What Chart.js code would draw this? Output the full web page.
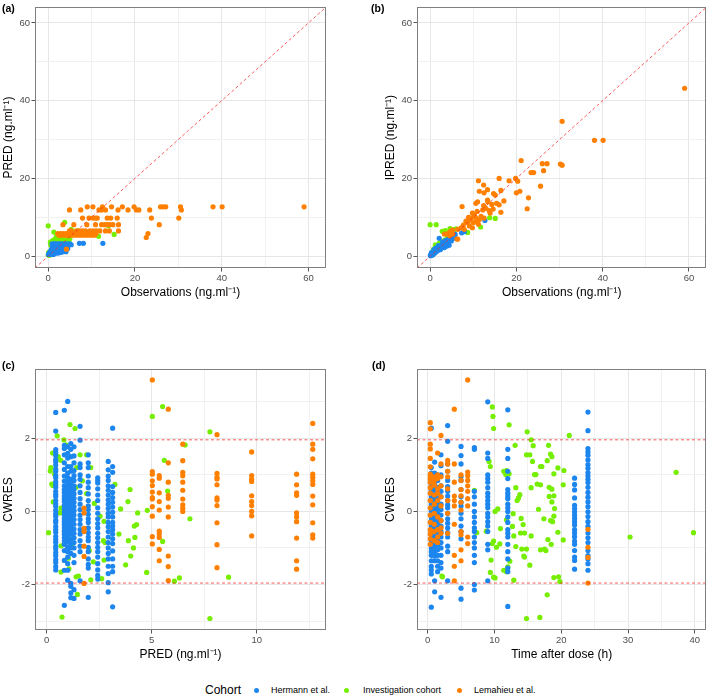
<!DOCTYPE html>
<html lang="en">

<head>
  <meta charset="UTF-8">
  <title>Goodness-of-fit plots</title>
  <script src="https://cdn.jsdelivr.net/npm/chart.js"></script>
  <style>
    body {
      margin: 0;
      width: 709px;
      height: 696px;
      position: relative;
      overflow: hidden;
      background: #ffffff;
      font-family: "Liberation Sans", Arial, sans-serif;
    }

    .painel {
      position: absolute;
    }

    .rotulo {
      position: absolute;
      font-weight: bold;
      font-size: 10.5px;
      line-height: 12px;
      color: #000;
    }

    .legenda {
      position: absolute;
      white-space: nowrap;
      color: #000;
    }

    .ponto {
      position: absolute;
      width: 5px;
      height: 5px;
      border-radius: 50%;
    }
  </style>
</head>

<body>
  <canvas id="graficoA" class="painel" width="354" height="305" style="left:0px; top:0px"></canvas>
  <canvas id="graficoB" class="painel" width="327" height="305" style="left:382px; top:0px"></canvas>
  <canvas id="graficoC" class="painel" width="354" height="305" style="left:0px; top:362px"></canvas>
  <canvas id="graficoD" class="painel" width="327" height="305" style="left:382px; top:362px"></canvas>

  <div class="rotulo" style="left:2px; top:1.5px">(a)</div>
  <div class="rotulo" style="left:371px; top:1.5px">(b)</div>
  <div class="rotulo" style="left:2px; top:359px">(c)</div>
  <div class="rotulo" style="left:372px; top:359px">(d)</div>

  <div class="legenda" style="left:205px; top:683px; font-size:12px; line-height:14px">Cohort</div>
  <div class="ponto" style="left:254px; top:687.5px; background:#1C86EE"></div>
  <div class="legenda" style="left:271px; top:684.5px; font-size:9px; line-height:11px">Hermann et al.</div>
  <div class="ponto" style="left:344px; top:687.5px; background:#76EE00"></div>
  <div class="legenda" style="left:363px; top:684.5px; font-size:9px; line-height:11px">Investigation cohort</div>
  <div class="ponto" style="left:456.5px; top:687.5px; background:#FF7F00"></div>
  <div class="legenda" style="left:474px; top:684.5px; font-size:9px; line-height:11px">Lemahieu et al.</div>
</body>

</html>
<script>
  // ---------- axes: limits, ticks and labels
  const limObs = [-3.05, 64.05];
  const ticksObs = [0, 10, 20, 30, 40, 50, 60];
  const labelsObs = [0, 20, 40, 60];

  const limPred = [-0.557, 13.3];
  const ticksPred = [0, 2.5, 5, 7.5, 10, 12.5];
  const labelsPred = [0, 5, 10];

  const limTime = [-1.59, 41.73];
  const ticksTime = [0, 5, 10, 15, 20, 25, 30, 35, 40];
  const labelsTime = [0, 10, 20, 30, 40];

  const limCwres = [-3.245, 3.893];
  const ticksCwres = [-3, -2, -1, 0, 1, 2, 3];
  const labelsCwres = [-2, 0, 2];
  const cwresBounds = [-1.96, 1.96];

  // ---------- (a) observations vs PRED  -> rows: [PRED, [observations]]
  const aHermannRows = [
    [0.43, [0.05, 0.15, 0.25, 0.35, 0.45, 0.6, 0.8, 1.0, 1.2]],
    [0.84, [0.3, 0.5, 0.7, 0.9, 1.1, 1.4, 1.7, 2.0, 2.4]],
    [1.0, [0.4, 0.6, 0.9, 1.2, 1.5, 1.8, 2.2, 2.6, 3.0]],
    [1.15, [0.5, 0.8, 1.1, 1.4, 1.7, 2.0, 2.4, 2.8, 3.3, 4.1]],
    [1.3, [0.6, 0.9, 1.2, 1.5, 1.9, 2.3, 2.7, 3.2]],
    [1.59, [0.7, 1.0, 1.3, 1.7, 2.1, 2.5, 3.0, 3.5]],
    [1.98, [0.9, 1.2, 1.6, 2.0, 2.4, 2.9, 3.4, 4.0, 4.5]],
    [2.43, [1.0, 1.4, 1.8, 2.2, 2.7, 3.2, 3.8, 4.4]],
    [2.93, [1.1, 1.5, 2.0, 2.5, 3.0, 3.5, 4.1, 4.7, 5.3]],
    [3.14, [0.9, 1.3, 1.7, 2.2, 2.7, 3.2, 3.8, 4.4, 5.0]],
    [3.3, [7.2, 8.1, 12.6]]
  ];
  const aInvestPairs = [
    [0.0, 7.8], [1.3, 6.2], [3.8, 8.7], [5.3, 6.9], [13.9, 7.8], [15.2, 5.6], [11.6, 5.1],
    [0.5, 3.6], [1.0, 4.0], [1.5, 4.3], [2.0, 4.6], [2.5, 4.2], [3.0, 4.8], [3.5, 5.0],
    [4.0, 4.5], [4.5, 5.4], [1.2, 3.5], [2.2, 3.8], [1.9, 5.1], [2.7, 5.6],
    [3.3, 3.9], [4.8, 4.0], [0.3, 0.2], [0.2, 0.5], [0.1, 1.0], [5.6, 6.1], [6.8, 6.5],
    [8.7, 5.9], [0.0, 0.3], [0.6, 2.8], [1.6, 3.7], [2.9, 4.1], [4.2, 3.8], [5.0, 4.6]
  ];
  const aLemahieuRows = [
    [12.7, [9.0, 10.3, 12.5, 14.6, 17.1, 19.8, 25.9, 26.5, 27.1, 30.5, 38.0, 40.1, 59.0]],
    [11.9, [4.9, 7.5, 11.7, 12.3, 13.2, 16.1, 18.4, 20.3, 20.9, 23.4, 30.7]],
    [9.8, [7.9, 9.4, 10.3, 10.9, 11.3, 13.6, 14.4, 15.9, 23.8, 30.1]],
    [8.1, [3.4, 5.9, 8.9, 10.9, 12.3, 13.0, 13.6, 14.2, 14.9, 16.2, 25.6]],
    [6.5, [4.9, 5.3, 6.5, 7.2, 7.9, 8.6, 9.6, 10.4, 11.1, 11.9, 13.2, 14.1, 16.2]],
    [5.8, [2.2, 2.8, 3.4, 4.1, 4.7, 5.5, 6.2, 7.0, 7.6, 8.3, 9.0, 9.6, 10.3, 11.0, 23.0]],
    [5.4, [2.5, 3.0, 3.8, 4.4, 5.1, 5.9, 6.6, 7.3, 8.0, 8.7, 9.3, 10.0, 10.7]],
    [4.8, [22.6]],
    [1.8, [4.2]]
  ];

  // ---------- (b) observations vs IPRED  -> pairs: [observation, IPRED]
  const bHermannPairs = [
    [0.1, 0.1], [0.2, 0.3], [0.4, 0.4], [0.5, 0.7], [0.7, 0.6], [0.8, 1.0], [1.0, 1.1], [1.1, 0.8],
    [1.2, 1.4], [1.4, 1.2], [1.5, 1.7], [1.6, 1.3], [1.8, 2.0], [2.0, 1.6], [2.1, 2.3], [2.3, 2.0],
    [2.5, 2.6], [2.6, 2.2], [2.8, 3.0], [3.0, 2.6], [3.2, 3.3], [3.4, 2.9], [3.6, 3.7], [3.8, 3.3],
    [4.0, 4.1], [4.2, 3.6], [4.4, 4.5], [4.6, 4.0], [4.8, 4.9], [5.0, 4.5], [5.2, 5.3], [5.5, 5.1],
    [5.8, 5.6], [4.4, 2.8], [3.9, 2.6], [2.1, 4.6], [0.3, 0.9], [0.9, 1.7], [1.3, 2.1], [7.3, 6.0],
    [7.9, 6.3], [12.7, 9.2], [3.3, 2.2], [5.1, 5.6], [2.9, 3.6], [1.9, 2.7], [0.05, 0.3], [0.6, 0.3],
    [2.4, 1.7], [3.5, 4.0], [4.9, 3.9], [5.4, 4.6]
  ];
  const bInvestPairs = [
    [0.0, 8.1], [1.4, 8.1], [15.1, 9.7], [13.8, 9.9], [11.7, 7.5], [8.7, 6.1], [4.6, 7.1],
    [2.8, 6.4], [3.5, 6.6], [6.0, 7.0], [5.5, 6.8], [0.5, 0.8], [1.0, 1.5], [1.5, 2.2], [2.0, 2.6],
    [2.5, 3.3], [3.0, 3.8], [3.5, 4.2], [1.2, 2.9], [2.2, 3.5], [0.8, 1.8], [4.0, 5.0], [4.5, 5.5],
    [0.3, 0.6], [1.7, 1.9], [2.7, 2.8], [0.2, 0.2], [0.6, 1.2]
  ];
  const bLemahieuPairs = [
    [59.0, 43.2], [30.6, 34.7], [38.1, 29.8], [40.1, 29.8], [30.2, 23.7], [30.6, 23.4], [26.0, 23.8],
    [27.1, 23.8], [21.1, 24.6], [23.4, 21.5], [24.0, 21.5], [26.3, 22.0], [25.6, 18.0], [22.8, 15.0],
    [22.5, 12.2], [19.8, 20.0], [20.3, 19.3], [20.0, 16.3], [20.8, 16.7], [18.3, 19.4], [16.0, 20.0],
    [16.4, 16.9], [17.1, 14.2], [16.4, 11.3], [15.4, 13.6], [16.0, 13.2], [14.7, 16.1], [13.3, 17.1],
    [12.5, 16.3], [11.2, 19.4], [12.4, 18.3], [11.4, 16.7], [7.4, 12.75], [10.6, 13.6], [11.0, 14.0],
    [12.4, 13.0], [13.3, 14.4], [13.4, 14.0], [14.3, 13.3], [12.2, 11.9], [12.9, 12.3], [13.7, 11.7],
    [13.9, 11.1], [9.8, 11.1], [10.2, 10.7], [8.9, 10.0], [9.5, 9.8], [8.3, 9.0], [8.7, 8.6],
    [7.7, 8.0], [7.2, 7.3], [7.9, 6.9], [9.1, 7.75], [10.0, 8.6], [10.8, 9.0], [11.4, 9.4],
    [11.8, 10.25], [12.5, 9.8], [11.2, 8.2], [9.8, 7.3], [6.4, 6.9], [5.2, 6.7], [4.5, 6.1],
    [3.8, 5.7], [3.3, 5.7], [5.2, 5.7], [4.5, 5.3], [6.4, 4.4], [6.2, 4.4], [4.9, 6.5],
    [10.5, 10.0], [9.2, 9.3], [10.9, 11.5], [14.6, 12.1], [15.1, 15.7]
  ];

  // ---------- (c) PRED vs CWRES  -> columns: [PRED, [CWRES]]
  const cHermannCols = [
    [0.43, [2.71, 2.2, 1.69, 1.61, 1.53, 1.42, 1.36, 1.27, 1.16, 1.1, 0.99, 0.92, 0.81, 0.74, 0.66, 0.55, 0.47, 0.41, 0.3, 0.21,
      0.14, 0.03, -0.06, -0.13, -0.24, -0.3, -0.41, -0.5, -0.57, -0.68, -0.77, -0.84, -0.95, -1.03, -1.13, -1.21, -1.32, -1.4, -1.51, -1.6]],
    [0.84, [2.77, 1.81, 1.72, 1.55, 1.33, 1.15, 0.97, 0.83, 0.7, 0.6, 0.52, 0.42, 0.35, 0.27, 0.17, 0.08, -0.01, -0.1, -0.19, -0.28,
      -0.36, -0.45, -0.54, -0.63, -0.72, -0.81, -0.9, -1.07, -1.34, -1.61, -2.57]],
    [1.0, [3.01, 1.77, 1.59, 1.46, 1.23, 1.05, 0.93, 0.8, 0.7, 0.61, 0.52, 0.44, 0.35, 0.26, 0.17, 0.1, -0.01, -0.1, -0.19, -0.28,
      -0.37, -0.46, -0.54, -0.63, -0.72, -0.84, -0.98, -1.1, -1.25, -1.43, -1.61, -1.88]],
    [1.15, [1.86, 1.7, 1.5, 1.23, 1.1, 0.88, 0.75, 0.64, 0.55, 0.47, 0.38, 0.3, 0.21, 0.12, 0.04, -0.06, -0.15, -0.25, -0.33, -0.42,
      -0.52, -0.62, -0.75, -0.88, -1.0, -1.15, -1.97, -2.05, -2.23, -2.36]],
    [1.3, [1.77, 1.52, 1.33, 1.12, 0.98, 0.85, 0.7, 0.6, 0.48, 0.36, 0.25, 0.13, 0.02, -0.1, -0.22, -0.35, -0.48, -0.6, -0.72, -0.85,
      -1.0, -1.2, -1.4, -2.14, -2.38]],
    [1.59, [2.33, 1.95, 1.3, 1.2, 1.0, 0.88, 0.7, 0.52, 0.35, 0.2, 0.05, -0.1, -0.22, -0.35, -0.5, -0.62, -0.8, -0.95, -1.1, -1.9]],
    [1.98, [1.55, 1.33, 1.2, 0.97, 0.8, 0.65, 0.48, 0.3, 0.15, 0.05, -0.08, -0.2, -0.3, -0.45, -0.58, -0.7, -0.8, -0.98, -1.1, -1.3,
      -1.45, -1.55, -2.35]],
    [2.43, [0.92, 0.85, 0.78, 0.62, 0.45, 0.3, 0.1, -0.05, -0.2, -0.33, -0.45, -0.6, -0.72, -0.85, -0.98, -1.1, -1.25, -1.43, -1.6,
      -1.75, -1.85]],
    [2.93, [1.37, 1.14, 0.97, 0.85, 0.7, 0.58, 0.45, 0.32, 0.2, 0.08, -0.05, -0.15, -0.3, -0.42, -0.55, -0.7, -0.85, -1.0, -1.15,
      -1.3, -1.5, -1.7, -1.95, -2.2]],
    [3.14, [2.28, 1.23, 1.07, 0.68, 0.52, 0.38, 0.25, 0.12, -0.02, -0.15, -0.3, -0.4, -0.5, -0.62, -0.75, -0.88, -1.08, -1.3, -1.5,
      -1.65, -2.61]]
  ];
  const cInvestPairs = [
    [0.09, -0.58], [0.17, 1.11], [0.2, 1.2], [0.28, 1.6], [0.3, 0.71], [0.38, 1.02], [0.5, 2.07], [0.55, 1.5],
    [0.67, 1.4], [0.68, 0.09], [0.73, -2.89], [0.63, -0.04], [0.82, 1.96], [0.92, 1.82], [1.11, 2.38], [1.35, 2.27],
    [1.06, -1.57], [0.68, -1.66], [1.03, -0.71], [1.19, -0.95], [1.43, 1.2], [1.59, 1.55], [1.46, -2.27], [1.51, -1.77],
    [1.4, 0.66], [1.7, 0.84], [1.9, 1.55], [2.1, 1.2], [2.03, -1.07], [2.1, -1.87], [1.9, 0.49], [2.22, -1.38],
    [2.27, 0.22], [2.54, -0.13], [2.73, -0.27], [2.7, -0.8], [2.78, -0.85], [2.62, -1.84], [2.73, -1.33], [3.25, 0.74],
    [3.44, -0.62], [3.52, 0.07], [3.76, -1.46], [3.87, 0.27], [3.89, -0.8], [3.97, 0.6], [4.0, -1.22], [4.13, -1.0],
    [4.17, -0.4], [4.2, -0.71], [4.28, -0.36], [4.33, -0.04], [4.79, 0.03], [4.76, -1.67], [5.03, 2.6], [5.52, 2.87],
    [5.6, 1.4], [5.52, -0.82], [5.76, 0.56], [6.08, -1.91], [6.32, -1.82], [6.59, 1.82], [6.82, -0.2], [7.77, 2.18],
    [7.77, -2.93], [8.66, -1.8], [0.24, 0.75], [0.31, 0.26], [0.68, -0.94], [1.03, -1.28], [1.4, -1.79]
  ];
  const cLemahieuCols = [
    [5.03, [3.6, 1.09, 1.02, 0.84, 0.71, 0.53, 0.38, 0.34, 0.13, -0.13, -0.69, -0.89]],
    [5.36, [0.98, 0.91, 0.51, 0.27, 0.04, -0.54, -0.62, -0.71, -1.04, -1.35]],
    [5.79, [2.8, 1.33, 0.8, 0.44, 0.36, 0.12, -0.15, -1.22, -1.51, -1.89]],
    [6.48, [1.84, 1.39, 1.07, 0.98, 0.8, 0.58, 0.34, 0.18, 0.09, 0.0]],
    [8.11, [2.1, 1.04, 0.93, 0.89, 0.73, 0.37, 0.31, 0.16, -0.31, -0.91, -1.54]],
    [9.76, [1.63, 0.98, 0.88, 0.82, 0.43, 0.27, 0.16, 0.0, -0.12, -0.67]],
    [11.9, [1.02, 0.73, 0.51, 0.44, -0.04, -0.15, -0.28, -0.73, -1.35, -1.58]],
    [12.67, [2.41, 1.84, 1.7, 1.44, 1.02, 0.93, 0.84, 0.74, 0.42, 0.18, -0.31, -0.64, -0.73]],
    [1.78, [0.09, -0.04, -0.46, -0.55, -0.95, -1.23, -1.97]]
  ];

  // ---------- (d) time after dose vs CWRES  -> columns: [time, [CWRES]]
  const dHermannCols = [
    [0.55, [2.28, 1.2, 1.05, 0.95, 0.85, 0.72, 0.65, 0.58, 0.5, 0.42, 0.35, 0.25, 0.18, 0.1, 0.0, -0.08, -0.15, -0.25, -0.32, -0.4,
      -0.48, -0.56, -0.63, -0.72, -0.8, -0.9, -1.0, -1.1, -1.2, -1.35, -1.5, -1.6, -1.71, -2.62]],
    [1.05, [1.35, 1.05, 0.9, 0.75, 0.62, 0.5, 0.38, 0.25, 0.12, 0.02, -0.1, -0.22, -0.35, -0.45, -0.55, -0.65, -0.75, -0.85, -0.97,
      -1.1, -1.22, -1.35, -1.9, -2.2]],
    [1.5, [1.0, 0.85, 0.65, 0.5, 0.35, 0.2, 0.08, -0.05, -0.18, -0.3, -0.42, -0.55, -0.68, -0.8, -0.92, -1.05, -1.2, -1.35, -1.5, -1.65]],
    [2.0, [1.55, 1.25, 1.0, 0.7, 0.55, 0.4, 0.2, 0.05, -0.1, -0.25, -0.4, -0.55, -0.7, -0.85, -1.0, -1.2, -1.4, -1.55, -2.35]],
    [3.0, [2.35, 1.92, 1.3, 1.1, 0.85, 0.68, 0.55, 0.42, 0.3, 0.18, 0.1, -0.05, -0.2, -0.32, -0.45, -0.58, -0.7, -0.95, -1.1, -1.9]],
    [5.0, [1.78, 1.53, 1.3, 0.95, 0.85, 0.6, 0.4, 0.25, 0.15, -0.05, -0.2, -0.4, -0.55, -0.75, -2.1, -2.4]],
    [7.0, [1.75, 1.7, 0.55, 0.4, 0.2, 0.0, -0.15, -0.3, -0.45, -0.55, -0.7, -0.85, -1.0, -1.2, -1.4, -2.0, -2.15]],
    [9.0, [3.0, 1.6, 1.45, 1.0, 0.9, 0.8, 0.65, 0.5, 0.4, 0.3, 0.2, 0.1, -0.05, -0.15, -0.28, -0.4, -0.55, -0.9, -1.05, -1.9]],
    [12.0, [2.78, 1.7, 1.45, 1.1, 0.9, 0.6, 0.5, 0.42, 0.35, 0.2, 0.1, 0.0, -0.15, -0.3, -0.5, -0.6, -0.7, -0.9, -1.1, -1.3, -1.55,
      -1.65, -2.6]],
    [22.0, [0.91, 0.74, 0.59, 0.37, 0.17, 0.08, -0.01, -0.1, -0.19, -0.28, -0.37, -0.5, -0.59, -0.69, -0.81, -0.9, -1.07, -1.25,
      -1.34, -1.58]],
    [24.0, [2.72, 2.21, 1.72, 1.63, 1.54, 1.41, 1.28, 1.18, 1.06, 0.97, 0.88, 0.79, 0.66, 0.52, 0.39, 0.26, 0.13, -0.01, -0.14,
      -0.28, -0.41, -0.59, -0.72, -0.85, -1.07, -1.21, -1.3, -1.43, -1.61]]
  ];
  const dInvestPairs = [
    [2.13, -1.77], [2.23, -1.79], [7.0, 0.58], [7.35, -0.58], [8.79, -0.54], [9.19, 1.37], [9.39, 1.23], [9.69, 2.86],
    [9.78, 2.6], [9.88, 2.27], [9.39, -1.67], [9.88, -1.8], [10.1, 0.0], [10.5, 0.07], [9.88, -0.81], [9.69, -0.88],
    [10.3, -0.98], [10.8, -0.89], [9.5, -1.33], [10.1, -1.82], [10.9, -0.47], [11.4, 1.1], [11.8, 1.12], [11.7, 1.01],
    [12.2, 1.03], [12.2, 2.37], [11.8, -0.23], [12.0, -1.52], [11.4, -1.61], [11.8, -1.65], [12.3, -1.36], [13.1, 1.81],
    [13.2, 0.65], [12.8, -0.06], [12.7, -0.41], [12.9, -0.67], [13.2, -0.96], [12.9, -1.88], [13.4, 0.3], [13.6, 0.37],
    [13.8, 0.46], [14.0, -0.19], [14.3, -0.36], [14.5, -0.59], [13.9, -0.59], [14.1, -1.03], [14.4, -1.22], [14.5, -1.25],
    [14.8, 1.55], [15.3, 1.55], [15.5, 0.65], [15.8, 1.8], [15.7, 1.37], [15.5, 1.96], [14.9, 2.18], [14.8, -2.93],
    [16.8, -2.9], [16.0, 1.01], [16.4, 0.75], [16.6, 0.06], [14.8, -1.03], [15.3, -1.47], [15.5, -0.67], [16.2, 1.01],
    [17.1, 1.23], [17.5, -1.03], [21.2, 2.08], [18.1, 1.81], [18.4, 1.57], [18.6, 1.5], [17.9, 1.39], [16.9, 1.23],
    [19.5, 1.19], [20.4, 1.12], [18.9, 1.03], [16.9, 0.73], [20.3, 0.73], [18.2, 0.66], [18.6, 0.61], [18.9, 0.43],
    [18.2, 0.41], [18.6, 0.26], [19.0, 0.08], [17.4, -0.2], [18.4, -0.25], [18.7, -0.28], [18.9, -0.13], [19.5, -0.57],
    [20.3, -0.78], [18.0, -0.77], [18.5, -0.9], [16.9, -1.05], [17.7, -1.07], [18.9, -1.81], [19.6, -1.79], [19.8, -1.92],
    [17.9, -2.28], [30.3, -0.7], [37.2, 1.07], [39.8, -0.58]
  ];
  const dLemahieuCols = [
    [0.4, [2.43, 2.26, 1.84, 1.71, 1.45, 1.22, 1.02, 0.95, 0.88, 0.8, 0.65, 0.5, 0.3, 0.1, -0.1, -0.3, -0.5, -0.62, -0.75, -0.9]],
    [1.0, [0.95, 0.85, 0.72, 0.45, 0.2, -0.05, -0.35, -0.55, -0.8]],
    [1.5, [1.6, 1.0, 0.9, 0.62, 0.5, 0.3, -0.15, -0.5, -0.7, -0.85]],
    [2.0, [2.08, 1.3, 0.95, 0.7, 0.4, 0.15, -0.25, -0.45, -0.6]],
    [3.0, [1.4, 1.3, 1.1, 0.95, 0.62, 0.3, -0.05, -0.6]],
    [4.0, [2.8, 1.3, 0.8, 0.42, 0.3, 0.15, -0.35, -1.2, -1.5, -1.9]],
    [5.0, [1.0, 0.85, 0.6, 0.43, 0.25, 0.04, -0.55, -0.64, -1.05, -1.35]],
    [6.0, [3.6, 1.08, 0.98, 0.85, 0.7, 0.55, 0.35, 0.15, -0.7, -0.88]],
    [24.0, [-0.49, -0.98, -1.26, -1.96]]
  ];

  // ---------- helpers
  const fonte = '"Liberation Sans", Arial, sans-serif';
  const corHermann = '#1C86EE';
  const corInvest = '#76EE00';
  const corLemahieu = '#FF7F00';
  const corLinha = 'rgba(245, 40, 40, 0.85)';

  const fromColumns = cols => cols.flatMap(([x, ys]) => ys.map(y => ({ x: x, y: y })));
  const fromRows = rows => rows.flatMap(([y, xs]) => xs.map(x => ({ x: x, y: y })));
  const fromPairs = pairs => pairs.map(([x, y]) => ({ x: x, y: y }));

  function pontos(dados, cor) {
    return {
      data: dados,
      backgroundColor: cor,
      borderWidth: 0,
      pointRadius: 2.6,
      pointHoverRadius: 2.6
    };
  }

  function linha(dados) {
    return {
      data: dados,
      showLine: true,
      pointRadius: 0,
      borderColor: corLinha,
      borderWidth: 0.9,
      borderDash: [3, 2.5]
    };
  }

  function eixo(lim, ticks, labels, titulo, horizontal) {
    return {
      type: 'linear',
      bounds: 'data',
      min: lim[0],
      max: lim[1],
      afterBuildTicks: s => { s.ticks = ticks.map(v => ({ value: v })); },
      afterFit: s => {
        if (horizontal) s.height = 37;
        else s.width = 35;
      },
      ticks: {
        autoSkip: false,
        maxRotation: 0,
        padding: horizontal ? 1 : 1.5,
        color: '#4D4D4D',
        font: { family: fonte, size: 9.5 },
        callback: v => labels.includes(v) ? String(v) : ''
      },
      grid: {
        color: c => (c.tick && labels.includes(c.tick.value)) ? '#E6E6E6' : '#F1F1F1',
        tickColor: c => (c.tick && labels.includes(c.tick.value)) ? '#555555' : 'rgba(0,0,0,0)',
        tickLength: 3.5,
        lineWidth: 1
      },
      border: { display: false },
      title: {
        display: true,
        text: titulo,
        color: '#000000',
        font: { family: fonte, size: 12 },
        padding: horizontal ? { top: 0, bottom: 4.8 } : { top: 1.8, bottom: 0 }
      }
    };
  }

  // moldura cinza em volta da area do grafico
  const moldura = {
    id: 'moldura',
    afterDraw(chart) {
      const { ctx, chartArea: a } = chart;
      ctx.save();
      ctx.strokeStyle = '#808080';
      ctx.lineWidth = 1;
      ctx.strokeRect(Math.round(a.left) + 0.5, Math.round(a.top) + 0.5, Math.round(a.width) - 1, Math.round(a.height) - 1);
      ctx.restore();
    }
  };

  // o primeiro dataset fica por cima: linhas, Lemahieu, Hermann, Investigation
  function mostrarGrafico(id, datasets, eixoX, eixoY, paddingRight) {
    const ctx = document.getElementById(id).getContext('2d');
    return new Chart(ctx, {
      type: 'scatter',
      data: { datasets: datasets },
      options: {
        responsive: false,
        animation: false,
        layout: { padding: { left: 0, top: 0, right: paddingRight, bottom: 0 } },
        scales: { x: eixoX, y: eixoY },
        plugins: {
          legend: { display: false },
          tooltip: { enabled: false }
        }
      },
      plugins: [moldura]
    });
  }

  const tituloObs = 'Observations (ng.ml\u207B\u00B9)';
  const diagonal = [{ x: limObs[0], y: limObs[0] }, { x: limObs[1], y: limObs[1] }];

  // (a)
  mostrarGrafico('graficoA', [
    linha(diagonal),
    pontos(fromRows(aLemahieuRows), corLemahieu),
    pontos(fromRows(aHermannRows), corHermann),
    pontos(fromPairs(aInvestPairs), corInvest)
  ], eixo(limObs, ticksObs, labelsObs, tituloObs, true),
    eixo(limObs, ticksObs, labelsObs, 'PRED (ng.ml\u207B\u00B9)', false), 28);

  // (b)
  mostrarGrafico('graficoB', [
    linha(diagonal),
    pontos(fromPairs(bLemahieuPairs), corLemahieu),
    pontos(fromPairs(bHermannPairs), corHermann),
    pontos(fromPairs(bInvestPairs), corInvest)
  ], eixo(limObs, ticksObs, labelsObs, tituloObs, true),
    eixo(limObs, ticksObs, labelsObs, 'IPRED (ng.ml\u207B\u00B9)', false), 1);

  // (c)
  mostrarGrafico('graficoC', [
    ...cwresBounds.map(b => linha([{ x: limPred[0], y: b }, { x: limPred[1], y: b }])),
    pontos(fromColumns(cLemahieuCols), corLemahieu),
    pontos(fromColumns(cHermannCols), corHermann),
    pontos(fromPairs(cInvestPairs), corInvest)
  ], eixo(limPred, ticksPred, labelsPred, 'PRED (ng.ml\u207B\u00B9)', true),
    eixo(limCwres, ticksCwres, labelsCwres, 'CWRES', false), 28);

  // (d)
  mostrarGrafico('graficoD', [
    ...cwresBounds.map(b => linha([{ x: limTime[0], y: b }, { x: limTime[1], y: b }])),
    pontos(fromColumns(dLemahieuCols), corLemahieu),
    pontos(fromColumns(dHermannCols), corHermann),
    pontos(fromPairs(dInvestPairs), corInvest)
  ], eixo(limTime, ticksTime, labelsTime, 'Time after dose (h)', true),
    eixo(limCwres, ticksCwres, labelsCwres, 'CWRES', false), 1);
</script>
